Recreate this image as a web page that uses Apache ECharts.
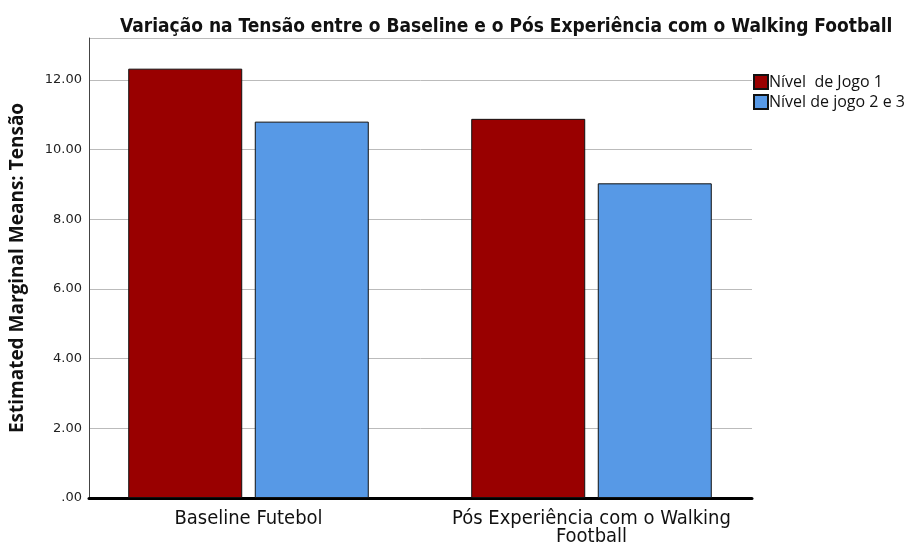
<!DOCTYPE html>
<html>
<head>
<meta charset="utf-8">
<script src="https://cdn.jsdelivr.net/npm/echarts@6/dist/echarts.min.js"></script>
<style>
  html, body { margin: 0; padding: 0; background: #fff; }
  #chart { width: 915px; height: 544px; }
</style>
</head>
<body>
<div id="chart"></div>
<script>
// Data
const categories = ['Baseline Futebol', 'Pós Experiência com o Walking\nFootball'];
const seriesNames = ['Nível  de Jogo 1', 'Nível de jogo 2 e 3'];
const nivel1 = [12.32, 10.88];
const nivel23 = [10.80, 9.03];

const chart = echarts.init(document.getElementById('chart'));
const condensed = '"DejaVu Sans Condensed", "DejaVu Sans", sans-serif';
const yMax = 13.2;

chart.setOption({
  animation: false,
  title: {
    text: 'Variação na Tensão entre o Baseline e o Pós Experiência com o Walking Football',
    left: 115,
    top: 13,
    textStyle: { fontFamily: condensed, fontSize: 19, fontWeight: 'bold', color: '#111' }
  },
  legend: {
    orient: 'vertical',
    left: 753,
    top: 74,
    padding: 0,
    itemWidth: 14,
    itemHeight: 14,
    itemGap: 4,
    icon: 'rect',
    data: seriesNames,
    textStyle: { fontFamily: '"Open Sans", sans-serif', fontSize: 16, color: '#111', padding: [0, 0, 0, -4] }
  },
  // vertical axis title
  graphic: [{
    type: 'text',
    x: 18,
    y: 268,
    rotation: Math.PI / 2,
    style: {
      text: 'Estimated Marginal Means: Tensão',
      fontFamily: 'Open Sans',
      fontSize: 19,
      fontWeight: 'bold',
      fill: '#111',
      align: 'center',
      verticalAlign: 'middle'
    }
  }],
  grid: [
    // axes + gridlines
    { left: 89, right: 163, top: 38, bottom: 46, outerBoundsMode: 'none' },
    // bars (category centres sit slightly off the axis frame, as in the source)
    { left: 77, right: 152, top: 38, bottom: 46, outerBoundsMode: 'none' }
  ],
  xAxis: [
    {
      gridIndex: 0,
      type: 'category',
      data: categories,
      axisLine: { lineStyle: { color: '#000', width: 3 } },
      axisTick: { show: false },
      axisLabel: { show: false }
    },
    {
      gridIndex: 1,
      type: 'category',
      data: categories,
      axisLine: { show: false },
      axisTick: { show: false },
      axisLabel: {
        interval: 0,
        fontFamily: condensed, fontSize: 20, color: '#111', margin: 12, lineHeight: 18
      }
    }
  ],
  yAxis: [
    {
      gridIndex: 0,
      type: 'value',
      min: 0,
      max: yMax,
      interval: 2,
      axisLine: { show: true, lineStyle: { color: '#444', width: 1 } },
      axisTick: { show: false },
      axisLabel: {
        fontFamily: '"DejaVu Sans", sans-serif', fontSize: 13, color: '#222', margin: 7,
        showMaxLabel: false,
        formatter: v => (v === 0 ? '.00' : v.toFixed(2))
      },
      splitLine: { lineStyle: { color: '#bbb', width: 1 } }
    },
    {
      gridIndex: 1,
      type: 'value',
      min: 0,
      max: yMax,
      show: false,
      splitLine: { show: false }
    }
  ],
  series: [
    {
      name: seriesNames[0],
      type: 'bar',
      xAxisIndex: 1,
      yAxisIndex: 1,
      data: nivel1,
      barWidth: 114,
      barGap: '11%',
      itemStyle: { color: '#990000', borderColor: '#111', borderWidth: 1 }
    },
    {
      name: seriesNames[1],
      type: 'bar',
      xAxisIndex: 1,
      yAxisIndex: 1,
      data: nivel23,
      barWidth: 114,
      itemStyle: { color: '#5799e6', borderColor: '#111', borderWidth: 1 }
    }
  ]
});
</script>
</body>
</html>
